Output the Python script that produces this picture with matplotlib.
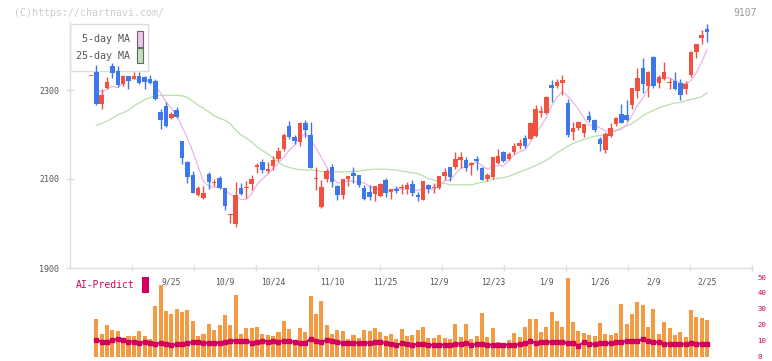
import matplotlib.pyplot as plt
import matplotlib.transforms as mtransforms
from matplotlib.patches import Rectangle
import numpy as np
import pandas as pd

plt.rcParams['font.family'] = ['DejaVu Sans Mono']

nan = np.nan

# daily candles (price)
opens = [2331, 2341, 2269, 2304, 2355, 2343, 2313, 2331, 2325, 2331,
         2329, 2325, 2320, 2251, 2265, 2238, 2255, 2185, 2139, 2109,
         2063, 2058, 2111, 2092, 2102, 2079, 2019, 1998, 2080, 2079,
         2088, 2126, 2139, 2118, 2130, 2145, 2167, 2220, 2195, 2184,
         2225, 2199, 2099, 2038, 2100, 2126, 2084, 2064, 2100, 2114,
         2109, 2080, 2070, 2066, 2062, 2098, 2070, 2078, 2079, 2078,
         2089, 2065, 2053, 2086, 2080, 2079, 2107, 2126, 2126, 2143,
         2143, 2131, 2145, 2125, 2100, 2104, 2137, 2161, 2145, 2161,
         2175, 2193, 2191, 2197, 2249, 2249, 2311, 2309, 2316, 2271,
         2206, 2214, 2204, 2242, 2233, 2190, 2165, 2197, 2223, 2247,
         2244, 2266, 2298, 2350, 2310, 2375, 2315, 2324, 2315, 2320,
         2315, 2302, 2334, 2385, 2417, 2438]
highs = [2331, 2357, 2302, 2329, 2361, 2355, 2334, 2332, 2341, 2341,
         2332, 2333, 2325, 2258, 2272, 2251, 2262, 2186, 2140, 2118,
         2085, 2085, 2116, 2101, 2107, 2080, 2021, 2094, 2091, 2096,
         2108, 2137, 2144, 2139, 2152, 2173, 2203, 2231, 2199, 2228,
         2233, 2227, 2128, 2098, 2122, 2133, 2087, 2101, 2107, 2128,
         2110, 2086, 2086, 2085, 2090, 2102, 2078, 2084, 2088, 2094,
         2098, 2070, 2096, 2089, 2090, 2107, 2125, 2128, 2160, 2160,
         2149, 2138, 2152, 2126, 2113, 2150, 2167, 2164, 2161, 2182,
         2189, 2199, 2227, 2266, 2264, 2287, 2322, 2324, 2334, 2280,
         2229, 2230, 2224, 2253, 2234, 2195, 2205, 2225, 2239, 2268,
         2277, 2305, 2349, 2373, 2342, 2377, 2334, 2364, 2328, 2341,
         2324, 2320, 2387, 2404, 2435, 2448]
lows = [2331, 2266, 2257, 2302, 2327, 2306, 2309, 2303, 2324, 2313,
        2302, 2313, 2277, 2213, 2217, 2234, 2236, 2133, 2092, 2068,
        2062, 2056, 2077, 2085, 2077, 2030, 2001, 1993, 2064, 2058,
        2076, 2114, 2113, 2113, 2120, 2140, 2164, 2191, 2178, 2175,
        2194, 2124, 2075, 2034, 2093, 2083, 2053, 2054, 2085, 2090,
        2083, 2053, 2053, 2051, 2060, 2060, 2056, 2068, 2066, 2066,
        2062, 2050, 2052, 2069, 2068, 2078, 2098, 2095, 2122, 2125,
        2119, 2110, 2120, 2097, 2095, 2101, 2133, 2139, 2143, 2156,
        2167, 2170, 2190, 2195, 2240, 2247, 2274, 2304, 2289, 2194,
        2188, 2210, 2195, 2229, 2205, 2164, 2158, 2195, 2219, 2225,
        2230, 2257, 2283, 2294, 2285, 2304, 2305, 2322, 2302, 2301,
        2277, 2291, 2330, 2371, 2403, 2408]
closes = [2331, 2269, 2289, 2317, 2338, 2311, 2331, 2321, 2331, 2315,
          2319, 2315, 2280, 2233, 2219, 2246, 2239, 2148, 2105, 2069,
          2080, 2069, 2094, 2094, 2079, 2040, 2020, 2064, 2066, 2081,
          2100, 2131, 2120, 2122, 2143, 2163, 2199, 2195, 2185, 2225,
          2210, 2125, 2101, 2081, 2118, 2094, 2064, 2100, 2107, 2107,
          2087, 2055, 2059, 2084, 2089, 2068, 2078, 2073, 2081, 2086,
          2069, 2060, 2095, 2078, 2082, 2107, 2116, 2105, 2144, 2149,
          2124, 2137, 2141, 2098, 2110, 2149, 2152, 2141, 2156, 2174,
          2182, 2174, 2226, 2257, 2253, 2285, 2305, 2318, 2322, 2199,
          2215, 2229, 2223, 2233, 2210, 2179, 2200, 2215, 2238, 2226,
          2233, 2304, 2328, 2313, 2341, 2310, 2330, 2341, 2318, 2302,
          2289, 2313, 2386, 2403, 2423, 2431]

# 25-day moving average as drawn
ma25 = [nan, 2221, 2225, 2230, 2237, 2244, 2249, 2255, 2264, 2271,
        2278, 2283, 2287, 2288, 2288, 2288, 2288, 2287, 2283, 2275,
        2266, 2259, 2251, 2242, 2236, 2232, 2224, 2210, 2199, 2192,
        2183, 2172, 2164, 2156, 2147, 2138, 2130, 2126, 2123, 2121,
        2120, 2120, 2119, 2117, 2116, 2116, 2116, 2116, 2116, 2117,
        2118, 2120, 2121, 2122, 2122, 2122, 2121, 2120, 2118, 2116,
        2114, 2112, 2107, 2101, 2098, 2093, 2090, 2087, 2087, 2087,
        2087, 2087, 2090, 2093, 2096, 2099, 2102, 2103, 2106, 2111,
        2116, 2120, 2125, 2130, 2136, 2142, 2150, 2159, 2166, 2174,
        2180, 2185, 2189, 2193, 2196, 2198, 2200, 2205, 2209, 2215,
        2219, 2225, 2233, 2242, 2249, 2254, 2260, 2264, 2267, 2271,
        2272, 2276, 2279, 2281, 2285, 2294]

# lower panel
volume = [nan, 23.7, 14.3, 19.9, 16.8, 16.2, 11.1, 13.0, 13.0, 16.2,
          13.0, 11.1, 31.9, 45.1, 28.7, 26.9, 30.0, 28.1, 29.4, 22.5,
          13.0, 14.3, 20.6, 16.8, 19.9, 26.2, 19.9, 38.8, 14.3, 18.0,
          18.0, 18.7, 14.3, 13.6, 13.0, 15.5, 22.5, 17.4, 10.5, 18.0,
          15.5, 38.2, 26.9, 35.0, 19.9, 14.3, 16.8, 16.2, 11.1, 13.6,
          11.8, 16.8, 16.2, 18.0, 15.5, 13.0, 14.3, 11.1, 17.4, 13.0,
          13.6, 16.8, 18.7, 11.8, 11.8, 13.6, 11.8, 11.1, 20.6, 12.4,
          20.6, 11.1, 13.0, 27.5, 12.4, 18.0, 9.2, 8.0, 10.5, 14.9,
          12.4, 18.7, 23.7, 23.7, 15.5, 18.7, 28.1, 22.5, 18.7, 49.5,
          21.8, 16.2, 14.9, 13.6, 13.0, 21.2, 14.3, 13.6, 14.9, 33.1,
          20.6, 26.9, 34.4, 32.5, 18.7, 30.0, 14.3, 21.8, 18.1, 13.6,
          15.5, 12.4, 29.4, 25.0, 24.3, 23.1]
ai_predict = [nan, 10.5, 9.4, 9.0, 10.3, 11.1, 10.5, 9.4, 9.4, 8.6,
              9.0, 8.6, 7.8, 8.6, 7.8, 7.3, 7.6, 7.8, 8.6, 9.0,
              9.0, 8.6, 8.6, 8.6, 8.6, 9.0, 9.9, 9.9, 9.9, 9.9,
              8.8, 9.4, 9.9, 9.4, 9.9, 9.4, 9.9, 9.9, 9.0, 8.6,
              8.6, 11.1, 9.9, 9.0, 10.5, 9.9, 9.0, 8.6, 8.6, 8.6,
              8.6, 8.6, 8.6, 9.4, 9.0, 8.6, 7.8, 7.3, 8.2, 7.8,
              7.3, 7.8, 7.8, 7.3, 7.3, 7.3, 7.3, 7.3, 8.0, 8.0,
              8.6, 7.3, 7.8, 7.8, 7.3, 7.3, 7.3, 7.3, 7.3, 7.3,
              7.8, 8.4, 9.7, 8.6, 9.0, 9.0, 9.0, 9.0, 9.0, 8.4,
              8.4, 6.9, 9.0, 7.8, 7.8, 8.4, 8.4, 8.4, 9.0, 9.0,
              9.9, 9.9, 9.9, 10.7, 9.9, 9.0, 9.0, 8.0, 8.0, 7.8,
              7.8, 7.8, 8.4, 8.0, 8.0, 8.0]

date_labels = ['9/25', '10/9', '10/24', '11/10', '11/25', '12/9',
               '12/23', '1/9', '1/26', '2/9', '2/25']
date_pos = [15, 25, 34, 45, 55, 65, 75, 85, 95, 105, 115]
price_ticks = [1900, 2100, 2300]
right_ticks = [0, 10, 20, 30, 40, 50]

RED = '#f0523f'
BLUE = '#3d78ea'
PINK = '#e9b4ea'
GREEN = '#b8dfab'
CRIMSON = '#d1005d'
GRID = '#dddddd'
TXT = '#555555'

W, H = 772, 361
fig = plt.figure(figsize=(W / 100, H / 100), dpi=100)


def fx(x):
    return x / W


def fy(y):
    return 1 - y / H


O = np.array(opens, float)
Hh = np.array(highs, float)
L = np.array(lows, float)
C = np.array(closes, float)
idx = np.arange(len(C))

# x range: first candle at px 91, 5.357 px per day, axes 70..752 px
x0, step = 91, 5.357
xlim = ((70 - x0) / step, (752 - x0) / step)

ax = fig.add_axes([fx(70), fy(268), fx(752) - fx(70), fy(22) - fy(268)])
ax.set_xlim(xlim)
ax.set_ylim(1900, 1900 + (268 - 22) / 0.445)

ma5 = pd.Series(C).rolling(5, min_periods=1).mean().values
ma5[0] = nan
ax.plot(idx, ma25, color=GREEN, lw=0.9, zorder=2)
ax.plot(idx, ma5, color=PINK, lw=0.9, zorder=2)

col = np.where(C >= O, RED, BLUE)
ax.vlines(idx, L, Hh, colors=col, lw=1.0, zorder=3)
body_lo = np.minimum(O, C)
body_h = np.maximum(np.abs(C - O), 2.2)
ax.bar(idx, body_h, bottom=body_lo, width=0.84, color=col, linewidth=0, zorder=4)

for s in ['top', 'right']:
    ax.spines[s].set_visible(False)
for s in ['left', 'bottom']:
    ax.spines[s].set_color(GRID)
    ax.spines[s].set_linewidth(1.0)
ax.set_xticks([xlim[0] + k * (xlim[1] - xlim[0]) / 11 for k in range(1, 12)])
ax.set_xticklabels([])
ax.tick_params(axis='x', direction='inout', length=4, color=GRID, width=1)
ax.set_yticks(price_ticks)
ax.tick_params(axis='y', direction='inout', length=6, color=GRID, width=1,
               labelsize=6, labelcolor=TXT, pad=4.7)

# legend box (behind candles)
ax.add_patch(Rectangle((fx(70), fy(71)), fx(148) - fx(70), fy(24) - fy(71),
                       transform=fig.transFigure, facecolor='white',
                       edgecolor=GRID, lw=1, zorder=1, clip_on=False))
ax.text(fx(130), fy(39), '5-day MA', transform=fig.transFigure, ha='right',
        va='center', fontsize=7.2, color=TXT, zorder=1)
ax.text(fx(130), fy(56), '25-day MA', transform=fig.transFigure, ha='right',
        va='center', fontsize=7.2, color=TXT, zorder=1)
ax.add_patch(Rectangle((fx(136.5), fy(46.5)), fx(6), fy(0) - fy(15),
                       transform=fig.transFigure, facecolor='#efc2ef',
                       edgecolor='#666666', lw=0.8, zorder=1, clip_on=False))
ax.add_patch(Rectangle((fx(136.5), fy(63)), fx(6), fy(0) - fy(15),
                       transform=fig.transFigure, facecolor='#c2e2b4',
                       edgecolor='#666666', lw=0.8, zorder=1, clip_on=False))

# volume / AI panel
vb, vt = 356.5, 271.5
axv = fig.add_axes([fx(70), fy(vb), fx(752) - fx(70), fy(vt) - fy(vb)])
axv.set_xlim(xlim)
axv.set_ylim(0, (vb - vt) / 1.59)
axv.bar(idx, volume, width=0.75, color='#f39a42', linewidth=0, zorder=2)
axv.plot(idx, ai_predict, color=CRIMSON, lw=1.5, marker='s', ms=2.4, zorder=3)
for s in axv.spines.values():
    s.set_visible(False)
axv.set_xticks([])
axv.yaxis.tick_right()
axv.set_yticks(right_ticks)
axv.tick_params(axis='y', length=0, pad=4, labelsize=5.3, labelcolor=CRIMSON)
axv.patch.set_alpha(0)

trans = mtransforms.blended_transform_factory(ax.transData, fig.transFigure)
for p, lab in zip(date_pos, date_labels):
    ax.text(p, fy(282), lab, transform=trans, ha='center', va='center',
            fontsize=5.8, color=TXT, clip_on=False)

fig.text(fx(76), fy(285), 'AI-Predict', fontsize=7, color=CRIMSON, va='center')
fig.add_artist(Rectangle((fx(142.3), fy(292.7)), fx(6.3), fy(0) - fy(15.4),
                         transform=fig.transFigure, facecolor=CRIMSON, lw=0))

fig.text(fx(14), fy(12.5), '(C)https://chartnavi.com/', fontsize=7.1,
         color='#cccccc', va='center')
fig.text(fx(757), fy(12.5), '9107', fontsize=7, color='#999999',
         va='center', ha='right')

fig.savefig('out.png', dpi=100)
